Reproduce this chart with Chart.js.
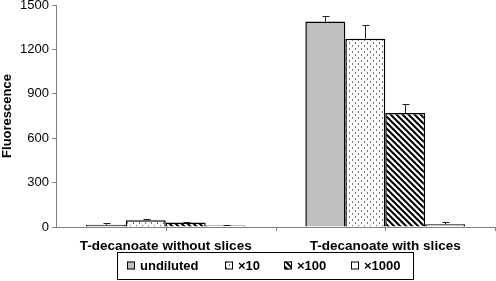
<!DOCTYPE html>
<html>
<head>
<meta charset="utf-8">
<script src="https://cdn.jsdelivr.net/npm/chart.js@4"></script>
<style>
  html, body { margin: 0; padding: 0; background: #fff; }
  #wrap { width: 496px; height: 281px; position: relative; }
</style>
</head>
<body>
<div id="wrap"><canvas id="chart" width="496" height="281"></canvas></div>
<script>
const categories = ['T-decanoate without slices', 'T-decanoate with slices'];
const seriesNames = ['undiluted', '\u00d710', '\u00d7100', '\u00d71000'];
const undiluted = [15, 1388];
const x10 = [45, 1272];
const x100 = [30, 770];
const x1000 = [10, 18];
const undilutedErr = [10, 38];
const x10Err = [8, 95];
const x100Err = [5, 60];
const x1000Err = [5, 15];
const yTicks = [0, 300, 600, 900, 1200, 1500];

const FONT = '"Liberation Sans", Arial, sans-serif';

function makePattern(kind) {
    const c = document.createElement('canvas');
    c.width = 6; c.height = 6;
    const g = c.getContext('2d');
    g.fillStyle = '#fff';
    g.fillRect(0, 0, 6, 6);
    if (kind === 'dots') {
        g.fillStyle = '#777';
        g.fillRect(1, 0, 1, 2);
        g.fillRect(4, 3, 1, 2);
    } else if (kind === 'stripes') {
        g.strokeStyle = '#000';
        g.lineWidth = 2;
        g.beginPath();
        g.moveTo(-1, -1); g.lineTo(7, 7);
        g.moveTo(-4, 2); g.lineTo(4, 10);
        g.moveTo(2, -4); g.lineTo(10, 4);
        g.stroke();
    }
    return g.createPattern(c, 'repeat');
}

const ctx = document.getElementById('chart').getContext('2d');

const fills = ['#c0c0c0', makePattern('dots'), makePattern('stripes'), '#ffffff'];
const values = [undiluted, x10, x100, x1000];
const errors = [undilutedErr, x10Err, x100Err, x1000Err];

const datasets = seriesNames.map((name, i) => ({
    label: name,
    data: values[i],
    errors: errors[i],
    backgroundColor: fills[i],
    borderColor: '#000',
    borderWidth: 1.5,
    borderSkipped: 'bottom',
    categoryPercentage: 0.728,
    barPercentage: 1.0
}));

// error bars, drawn from the bar elements
const errorBars = {
    id: 'errorBars',
    afterDatasetsDraw(chart) {
        const g = chart.ctx;
        const y = chart.scales.y;
        g.save();
        g.strokeStyle = '#222';
        g.lineWidth = 1;
        chart.data.datasets.forEach((ds, i) => {
            chart.getDatasetMeta(i).data.forEach((bar, j) => {
                const top = y.getPixelForValue(ds.data[j]);
                const end = Math.round(y.getPixelForValue(ds.data[j] + ds.errors[j])) + 0.5;
                const x = Math.round(bar.x) + 0.5;
                g.beginPath();
                g.moveTo(x, top);
                g.lineTo(x, end);
                g.moveTo(x - 3, end);
                g.lineTo(x + 4, end);
                g.stroke();
            });
        });
        g.restore();
    }
};

// category tick marks below the x axis
const xTicks = {
    id: 'xTicks',
    afterDraw(chart) {
        const g = chart.ctx;
        const xs = chart.scales.x;
        const bottom = chart.chartArea.bottom;
        const half = (xs.getPixelForValue(1) - xs.getPixelForValue(0)) / 2;
        const pts = [];
        categories.forEach((c, i) => {
            const cx = xs.getPixelForValue(i);
            pts.push(cx, cx + half);
        });
        g.save();
        g.strokeStyle = '#808080';
        g.lineWidth = 1;
        g.beginPath();
        pts.forEach(p => {
            const px = Math.min(Math.round(p), chart.width - 1) + 0.5;
            g.moveTo(px, bottom);
            g.lineTo(px, bottom + 4);
        });
        g.stroke();
        g.restore();
    }
};

// boxed legend along the bottom
const boxLegend = {
    id: 'boxLegend',
    afterDraw(chart) {
        const g = chart.ctx;
        const left = 117, top = 252, w = 296, h = 27;
        const itemX = [127, 225, 284, 351];
        g.save();
        g.strokeStyle = '#000';
        g.lineWidth = 1;
        g.strokeRect(left + 0.5, top + 0.5, w, h);
        g.font = 'bold 13px ' + FONT;
        g.textBaseline = 'middle';
        chart.data.datasets.forEach((ds, i) => {
            const cy = top + h / 2;
            g.fillStyle = ds.backgroundColor;
            g.fillRect(itemX[i], cy - 4, 8, 8);
            g.strokeStyle = '#000';
            g.strokeRect(itemX[i] + 0.5, cy - 3.5, 7, 7);
            g.fillStyle = '#000';
            g.fillText(ds.label, itemX[i] + 13, cy + 1);
        });
        g.restore();
    }
};

new Chart(ctx, {
    type: 'bar',
    data: { labels: categories, datasets: datasets },
    plugins: [errorBars, xTicks, boxLegend],
    options: {
        responsive: false,
        animation: false,
        layout: { padding: { top: 5, right: 1, bottom: 28, left: 0 } },
        plugins: {
            legend: { display: false },
            tooltip: { enabled: false }
        },
        scales: {
            x: {
                offset: true,
                grid: { display: false },
                border: { display: true, color: '#808080', width: 1 },
                ticks: {
                    color: '#000',
                    padding: 3,
                    font: { family: FONT, size: 13.5, weight: 'bold' }
                },
                afterFit(scale) { scale.height = 26; }
            },
            y: {
                min: 0,
                max: 1500,
                afterBuildTicks(scale) { scale.ticks = yTicks.map(v => ({ value: v })); },
                grid: { drawOnChartArea: false, tickLength: 4, color: '#808080' },
                border: { display: true, color: '#808080', width: 1 },
                ticks: {
                    color: '#000',
                    padding: 3,
                    callback: v => String(v),
                    font: { family: FONT, size: 13 }
                },
                title: {
                    display: true,
                    text: 'Fluorescence',
                    color: '#000',
                    padding: { top: 0, bottom: 0 },
                    font: { family: FONT, size: 13, weight: 'bold' }
                },
                afterFit(scale) {
                    scale.width = 56;
                    scale.paddingTop = 0;
                }
            }
        }
    }
});
</script>
</body>
</html>
